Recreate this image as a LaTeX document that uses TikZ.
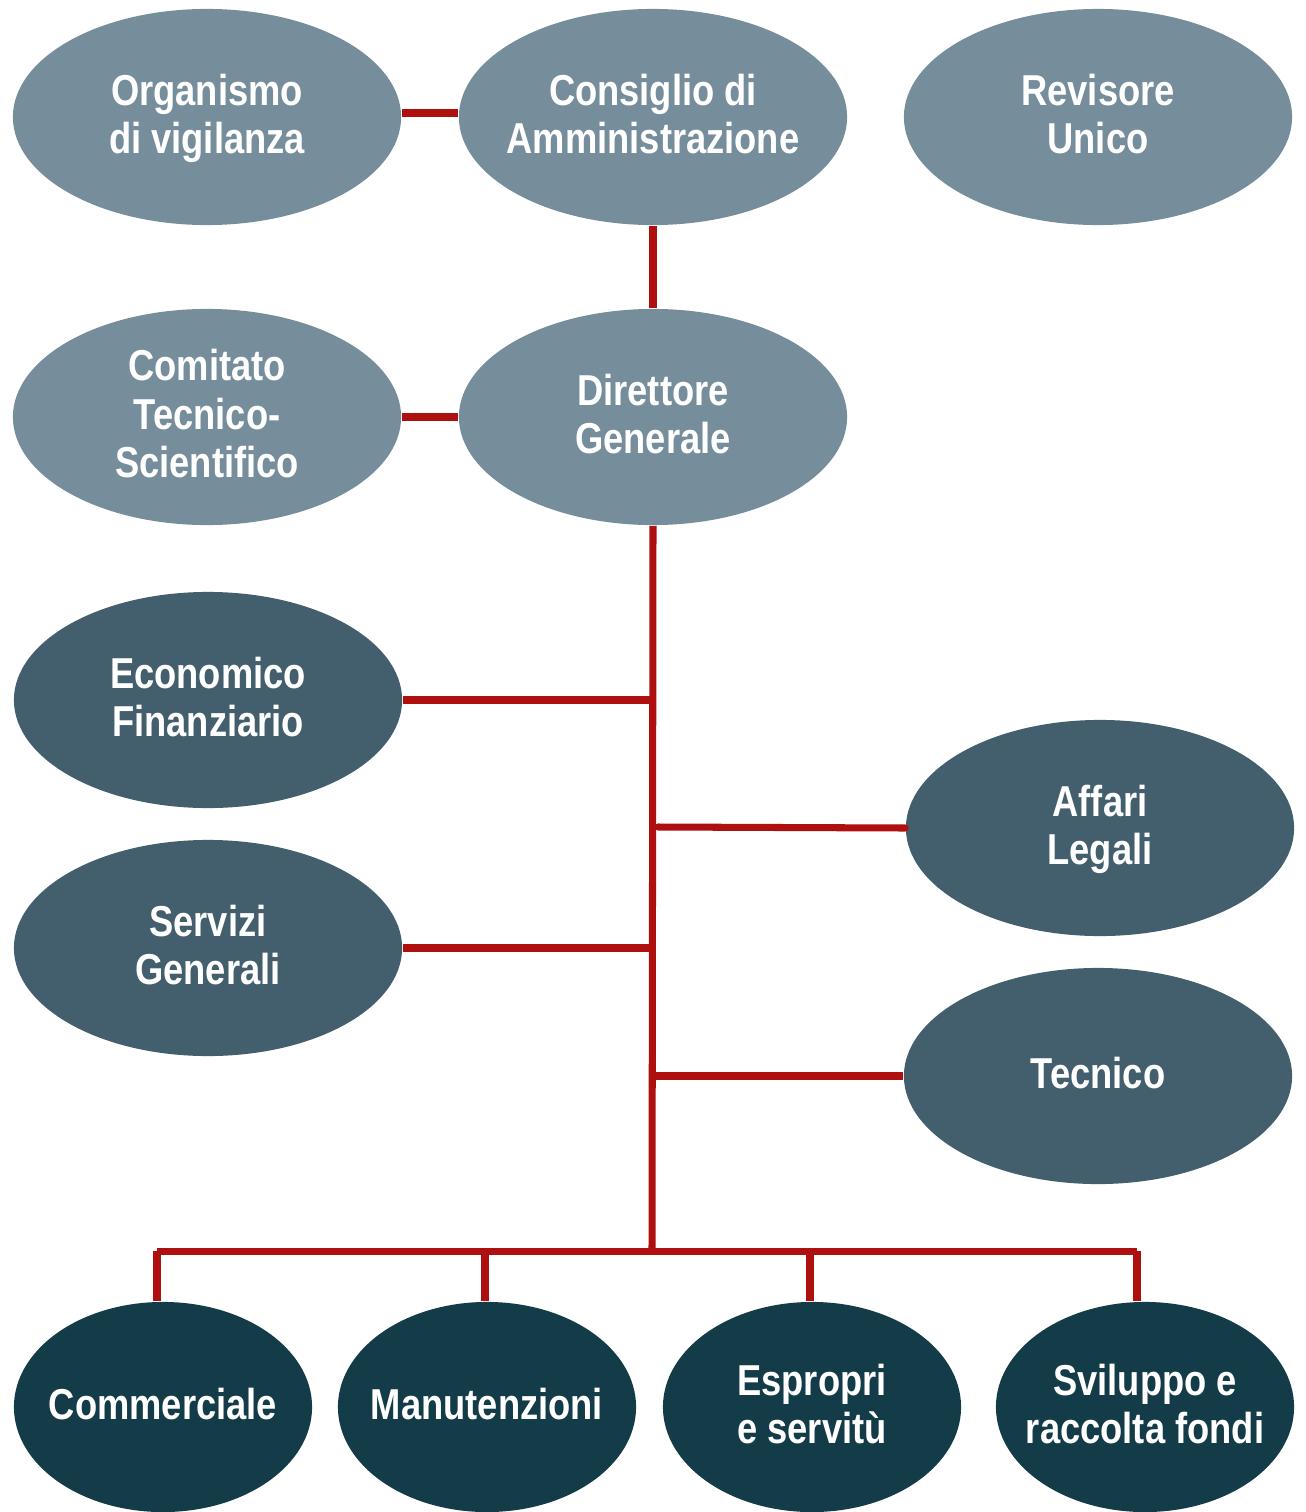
\documentclass[tikz,border=0pt]{standalone}
\usepackage{fontspec}
\usepackage{xcolor}
\newfontfamily\orgfont{Liberation Sans}[FakeStretch=0.84]
\usetikzlibrary{shapes.geometric}
\definecolor{boardgray}{HTML}{768D9B}
\definecolor{deptslate}{HTML}{435F6D}
\definecolor{unitteal}{HTML}{143B48}
\definecolor{linkred}{HTML}{AE0F0F}

\begin{document}
\begin{tikzpicture}[x=0.01cm, y=-0.01cm,
    every node/.style={font=\orgfont\bfseries\fontsize{12.3}{13.7}\selectfont, text=white, align=center},
    organ/.style={ellipse, fill=boardgray, minimum width=3.88cm, minimum height=2.16cm,
      inner xsep=-1cm, inner ysep=-0.5cm, text depth=0.07cm},
    dept/.style={organ, fill=deptslate},
    unit/.style={organ, fill=unitteal, minimum width=2.98cm, minimum height=2.10cm},
    link/.style={draw=linkred, line width=2pt}]
    \useasboundingbox (0,0) rectangle (1306,1512);
    % governance
    \node[organ] (odv) at (207,117) {Organismo\\di vigilanza};
    \node[organ] (cda) at (653,117) {Consiglio di\\Amministrazione};
    \node[organ] (rev) at (1098,117) {Revisore\\Unico};
    \node[organ] (cts) at (207,417) {Comitato\\Tecnico-\\Scientifico};
    \node[organ] (dg) at (653,417) {Direttore\\Generale};
    % departments
    \node[dept] (econ) at (208,700) {Economico\\Finanziario};
    \node[dept] (legal) at (1100,828) {Affari\\Legali};
    \node[dept] (serv) at (208,948) {Servizi\\Generali};
    \node[dept] (tec) at (1098,1076) {Tecnico};
    % units
    \node[unit] (comm) at (163,1407) {Commerciale};
    \node[unit] (manu) at (487,1407) {Manutenzioni};
    \node[unit] (espr) at (812,1407) {Espropri\\e servitù};
    \node[unit] (svil) at (1145,1407) {Sviluppo e\\raccolta fondi};
    % connectors
    \coordinate (bus) at (652,1251);
    \coordinate (legaljoin) at (658,827);
    \coordinate (d1) at (157,1251);
    \coordinate (d2) at (485,1251);
    \coordinate (d3) at (810,1251);
    \coordinate (d4) at (1137,1251);
    \draw[link] ([yshift=0.04cm]odv.east) -- ([yshift=0.04cm]cda.west);
    \draw[link] (cda.south) -- (dg.north);
    \draw[link] (cts) -- (dg);
    \draw[link] (dg.south) -- (bus);
    \draw[link] (econ.east) -- (econ.east -| bus);
    \draw[link] (serv.east) -- (serv.east -| bus);
    \draw[link, line cap=round] (legaljoin) -- (legal.west);
    \draw[link] (tec.west) -- (tec.west -| bus);
    \draw[link] (d1) -- (d4);
    \draw[link] (d1) -- (d1 |- comm.north);
    \draw[link] (d2) -- (d2 |- manu.north);
    \draw[link] (d3) -- (d3 |- espr.north);
    \draw[link] (d4) -- (d4 |- svil.north);
\end{tikzpicture}
\end{document}
